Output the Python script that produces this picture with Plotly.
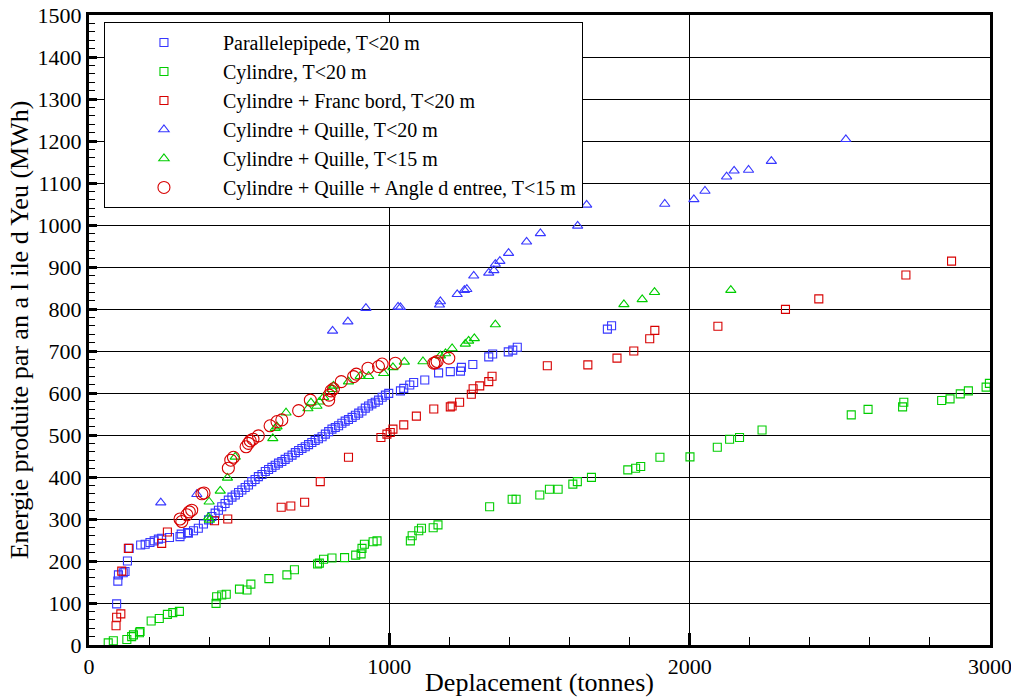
import plotly.graph_objects as go

# ---------------- data ----------------
para_x = [92, 96, 98, 114, 120, 128, 134, 172, 187, 203, 217, 231, 242, 268, 303, 307, 328,
          331, 348, 364, 381, 398, 409, 420, 431, 442, 453, 464, 476, 487, 498, 509, 520, 531,
          542, 553, 564, 576, 587, 598, 609, 620, 631, 642, 653, 664, 676, 687, 698, 709, 720,
          731, 742, 753, 764, 776, 787, 798, 809, 820, 831, 842, 853, 864, 876, 887, 898, 909,
          920, 931, 942, 953, 964, 976, 987, 998, 1037, 1048, 1068, 1081, 1118, 1164, 1203,
          1237, 1240, 1278, 1331, 1344, 1396, 1411, 1426, 1726, 1740]
para_y = [98, 152, 167, 172, 175, 200, 230, 238, 240, 244, 248, 252, 254, 256, 258, 264, 268,
          266, 272, 278, 288, 298, 306, 314, 321, 329, 337, 345, 352, 357, 363, 369, 375, 381,
          389, 394, 401, 406, 413, 418, 423, 428, 433, 437, 442, 447, 452, 458, 463, 468, 472,
          477, 482, 487, 491, 496, 502, 508, 514, 518, 522, 528, 533, 537, 542, 547, 552, 557,
          564, 569, 574, 578, 583, 590, 595, 599, 605, 611, 619, 625, 631, 648, 651, 652, 661,
          668, 686, 693, 698, 702, 709, 752, 760]

cyl_x = [64, 81, 126, 142, 148, 168, 170, 207, 234, 261, 279, 301, 423, 425, 442, 457, 501,
         526, 539, 599, 659, 684, 761, 767, 781, 809, 851, 888, 906, 909, 917, 946, 959, 1070,
         1076, 1098, 1107, 1146, 1162, 1334, 1409, 1422, 1501, 1533, 1562, 1611, 1626, 1673,
         1794, 1820, 1837, 1901, 2001, 2092, 2133, 2166, 2241, 2538, 2594, 2709, 2713, 2839,
         2867, 2901, 2928, 2987, 2998]
cyl_y = [5, 10, 13, 20, 24, 29, 32, 57, 63, 73, 77, 80, 99, 115, 119, 121, 133,
         131, 145, 158, 167, 179, 193, 195, 204, 207, 208, 214, 217, 230, 240, 246, 248, 248,
         260, 272, 278, 279, 286, 329, 347, 347, 357, 371, 371, 383, 389, 399,
         417, 421, 425, 447, 448, 471, 490, 494, 512, 548, 561, 567, 578, 582,
         586, 598, 605, 614, 623]

fb_x = [90, 92, 106, 109, 131, 242, 261, 418, 462, 640, 672, 718, 770, 864, 972, 992, 1003,
        1012, 1048, 1090, 1148, 1203, 1209, 1234, 1273, 1279, 1301, 1331, 1342, 1526, 1661,
        1758, 1814, 1867, 1884, 2094, 2319, 2430, 2720, 2872]
fb_y = [46, 66, 74, 176, 230, 242, 269, 296, 300, 328, 331, 340, 389, 447, 494, 502, 506,
        514, 524, 545, 562, 567, 569, 578, 597, 610, 617, 627, 640, 665, 667,
        683, 700, 729, 749, 759, 799, 824, 881, 914]

q20_x = [239, 359, 811, 862, 922, 1029, 1037, 1167, 1170, 1226, 1250, 1258, 1281, 1331, 1348,
         1353, 1368, 1397, 1457, 1503, 1627, 1657, 1917, 2014, 2051, 2123, 2148, 2196, 2272, 2520]
q20_y = [339, 359, 748, 770, 802, 805, 804, 810, 818, 835, 845, 847, 879, 886, 892,
         907, 914, 933, 960, 980, 998, 1048, 1050, 1061, 1081, 1115, 1129, 1131, 1152, 1204]

q15_x = [398, 401, 400, 437, 461, 487, 612, 620, 626, 656, 729, 739, 759, 767, 781, 809, 814,
         864, 903, 931, 981, 1012, 1050, 1112, 1170, 1187, 1209, 1253, 1264, 1283, 1353, 1781,
         1842, 1883, 2137]
q15_y = [304, 298, 341, 367, 398, 448, 492, 516, 520, 553, 563, 577, 569, 579, 590, 609, 617,
         627, 640, 640, 647, 661, 674, 675, 689, 694, 706, 717, 724, 730, 763, 811,
         823, 840, 845]

ang_x = [303, 309, 326, 334, 342, 376, 383, 464, 472, 481, 523, 531, 537, 546, 564, 603, 626,
         642, 698, 737, 798, 800, 806, 814, 840, 881, 890, 929, 964, 976, 1020, 1148, 1153,
         1159, 1198]
ang_y = [300, 294, 310, 317, 321, 360, 362, 421, 440, 447, 472, 480, 486, 490, 498, 522, 532,
         536, 558, 583, 583, 595, 605, 610, 627, 639, 645, 659, 663, 669, 671, 671, 672,
         675, 683]

names = ["Parallelepipede, T<20 m", "Cylindre, T<20 m", "Cylindre + Franc bord, T<20 m",
         "Cylindre + Quille, T<20 m", "Cylindre + Quille, T<15 m",
         "Cylindre + Quille + Angle d entree, T<15 m"]

x_ticks = [0, 1000, 2000, 3000]
y_ticks = list(range(0, 1501, 100))

BLUE = "rgb(55,55,255)"
GREEN = "rgb(0,205,0)"
RED = "rgb(215,0,0)"
FONT = "Liberation Serif"

series = [
    (para_x, para_y, names[0], "square-open", BLUE, 8),
    (cyl_x, cyl_y, names[1], "square-open", GREEN, 8),
    (fb_x, fb_y, names[2], "square-open", RED, 8),
    (q20_x, q20_y, names[3], "triangle-up-open", BLUE, 9),
    (q15_x, q15_y, names[4], "triangle-up-open", GREEN, 9),
    (ang_x, ang_y, names[5], "circle-open", RED, 12),
]

fig = go.Figure()
for xs, ys, nm, sym, col, sz in series:
    fig.add_trace(go.Scatter(
        x=xs, y=ys, mode="markers", name=nm,
        marker=dict(symbol=sym, color=col, size=sz, line=dict(width=1.1, color=col)),
    ))

fig.update_layout(
    width=1011, height=697,
    margin=dict(l=89, r=21, t=15, b=52),
    paper_bgcolor="white", plot_bgcolor="white",
    font=dict(family=FONT, color="black", size=22),
    showlegend=True,
    hovermode=False,
    legend=dict(
        x=0.0166, y=0.989, xanchor="left", yanchor="top",
        bgcolor="white", bordercolor="black", borderwidth=1,
        font=dict(family=FONT, size=20, color="black"),
        itemwidth=108, tracegroupgap=0,
    ),
)

fig.update_xaxes(
    range=[0, 3000], tickvals=x_ticks, ticktext=[str(v) for v in x_ticks],
    showgrid=True, gridcolor="black", gridwidth=1,
    showline=True, linecolor="black", linewidth=3, mirror=True,
    ticks="inside", ticklen=12, tickwidth=3, tickcolor="black",
    minor=dict(dtick=200, ticks="inside", ticklen=8, tickwidth=1, tickcolor="black", showgrid=False),
    zeroline=False, automargin=False, ticklabeloverflow="allow",
    title=dict(text="Deplacement (tonnes)", font=dict(family=FONT, size=26), standoff=0),
    tickfont=dict(family=FONT, size=22),
)
fig.update_yaxes(
    range=[0, 1500], tickvals=y_ticks, ticktext=[str(v) for v in y_ticks],
    showgrid=True, gridcolor="black", gridwidth=1,
    showline=True, linecolor="black", linewidth=3, mirror=True,
    ticks="inside", ticklen=8, tickwidth=3, tickcolor="black",
    minor=dict(dtick=20, ticks="inside", ticklen=6, tickwidth=1, tickcolor="black", showgrid=False),
    zeroline=False, automargin=False, ticklabeloverflow="allow",
    title=dict(text="Energie produite par an a l ile d Yeu (MWh)", font=dict(family=FONT, size=26), standoff=2),
    tickfont=dict(family=FONT, size=22),
)

# remove the default 8px page margin so the figure sits at the window's corner
fig.write_html("out.html",
               config={"displayModeBar": False, "staticPlot": True},
               post_script="document.body.style.margin='0';document.body.style.overflow='hidden';")
